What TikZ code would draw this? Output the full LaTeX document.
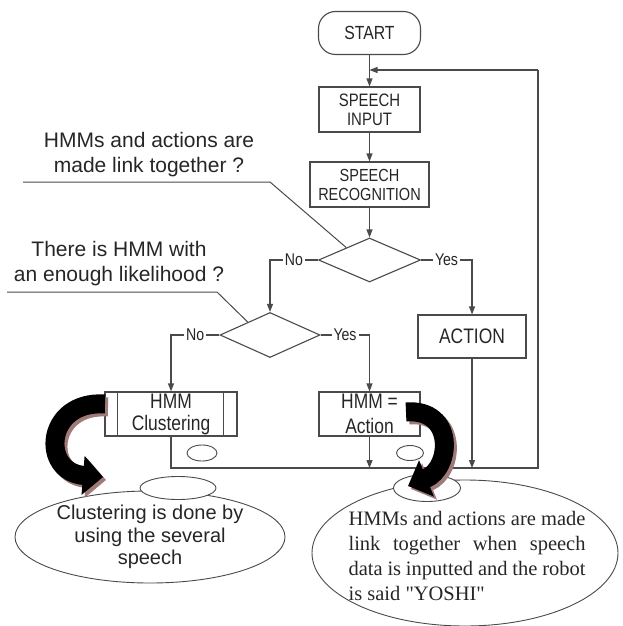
\documentclass[tikz,border=0pt]{standalone}
\usepackage{fontspec}
\setmainfont{Liberation Sans}
\newfontfamily\boxfont[FakeStretch=0.83]{Liberation Sans}
\newfontfamily\serifbody{Liberation Serif}
\usetikzlibrary{positioning, shapes.geometric, arrows.meta, calc}
\definecolor{lineg}{HTML}{4A4A4A}
\definecolor{shadowbrown}{HTML}{A07A78}

\begin{document}
\begin{tikzpicture}[
			x=1pt, y=-1pt,
			line width=1.1pt,
			boxtxt/.style={font=\boxfont\fontsize{21}{23}\selectfont, text=black!85},
			term/.style={boxtxt, draw=lineg, rounded corners=17pt, minimum width=102pt, minimum height=43pt, inner sep=0pt},
			proc/.style={boxtxt, draw=lineg, minimum height=45pt, align=center, inner sep=0pt},
			decide/.style={diamond, draw=lineg, inner sep=0pt},
			ar/.style={draw=lineg, -{Triangle[length=8pt,width=6pt]}},
			ln/.style={draw=lineg, line width=1pt},
			tag/.style={font=\boxfont\fontsize{17}{17}\selectfont, text=black!85, fill=white, inner sep=2pt},
			quest/.style={font=\fontsize{21}{25}\selectfont, align=center, text=black!85},
			blob/.style={ellipse, draw=lineg, line width=0.9pt, inner sep=0pt},
			fat/.style={line width=19pt, -{Triangle[length=20pt,width=38pt]}}
			]
			\useasboundingbox (0,0) rectangle (622,626);
			\node[term, font=\boxfont\fontsize{19}{19}\selectfont] (start) at (369.5,33) {START};
			\node[proc, minimum width=101pt, font=\boxfont\fontsize{18}{19}\selectfont] (input) at (369.5,109.5) {SPEECH\\INPUT};
			\node[proc, minimum width=119pt, font=\boxfont\fontsize{17.5}{19}\selectfont] (recog) at (369.5,184.5) {SPEECH\\RECOGNITION};
			\node[decide, minimum width=102pt, minimum height=44pt] (dec1) at (369.5,260) {};
			\node[decide, minimum width=100pt, minimum height=45pt] (dec2) at (270,335) {};
			\node[proc, minimum width=108pt, minimum height=43pt] (action) at (472,336.5) {ACTION};
			\node[proc, minimum width=132pt, minimum height=44pt, font=\boxfont\fontsize{21}{22}\selectfont] (clus) at (171,414) {HMM\\Clustering};
			\draw[lineg] ([xshift=13pt]clus.north west) -- ([xshift=13pt]clus.south west);
			\draw[lineg] ([xshift=-14pt]clus.north east) -- ([xshift=-14pt]clus.south east);
			\node[proc, minimum width=101pt, minimum height=44pt, font=\boxfont\fontsize{21}{25}\selectfont] (hmmact) at (369.5,414) {HMM =\\Action};
			\node[blob, minimum width=30pt, minimum height=16pt] (dotL) at (202,453) {};
			\node[blob, minimum width=27pt, minimum height=15pt] (dotR) at (410,453) {};
			\draw[ar] (start) -- (input);
			\draw[ar] (input) -- (recog);
			\draw[ar] (recog) -- (dec1);
			\draw[ar] (dec1.west) -| node[tag, pos=0.25] {No} (dec2.north);
			\draw[ar] (dec1.east) -| node[tag, pos=0.25] {Yes} (action.north);
			\draw[ar] (dec2.west) -| node[tag, pos=0.25] {No} (clus.north);
			\draw[ar] (dec2.east) -| node[tag, pos=0.25] {Yes} (hmmact.north);
			\coordinate (loopBR) at (538,468);
			\coordinate (loopTR) at (538,70);
			\draw[ln, line width=1.1pt] (clus.south) |- (loopBR) -- (loopTR);
			\draw[ar] (loopTR) -- (loopTR -| start.south);
			\draw[ar] (hmmact.south) -- (hmmact.south |- loopBR);
			\draw[ar] (action.south) -- (action.south |- loopBR);
			\node[quest] (q1) at (149,155) {HMMs and actions are\\made link together ?};
			\coordinate (q1l) at (23,182);
			\coordinate (q1r) at (270,182);
			\draw[ln] (q1l) -- (q1r) -- ($(dec1.west)!0.55!(dec1.north)$);
			\node[quest] (q2) at (119,264) {There is HMM with\\an enough likelihood ?};
			\coordinate (q2l) at (7,292);
			\coordinate (q2r) at (217,292);
			\draw[ln] (q2l) -- (q2r) -- ($(dec2.west)!0.56!(dec2.north)$);
			\node[blob, minimum width=270pt, minimum height=92pt, font=\fontsize{20}{22.5}\selectfont, align=center, text=black!85] (noteL) at (150,537) {Clustering is done by\\using the several\\speech};
			\node[blob, minimum width=306pt, minimum height=146pt] (noteR) at (465,553) {};
			\node[blob, fill=white, minimum width=76pt, minimum height=23pt] (tailL) at (178,488) {};
			\node[blob, fill=white, minimum width=67pt, minimum height=27pt] (tailR) at (427,488) {};
			\node[font=\serifbody\fontsize{20.5}{25}\selectfont, text width=237pt, align=justify, anchor=base west, inner sep=0pt, text=black!85] (noteRtxt) at (348,525) {HMMs and actions are made\linebreak link together when speech\linebreak data is inputted and the robot\linebreak is said "YOSHI"};
			\foreach \c/\d in {shadowbrown/3, black/0} {
				\draw[fat, \c] (105+\d,404+\d) .. controls (45+\d,400+\d) and (40+\d,472+\d) .. (103+\d,477+\d);
				\draw[fat, \c] (406+\d,412+\d) .. controls (455+\d,408+\d) and (452+\d,468+\d) .. (408+\d,486+\d);
			}
		\end{tikzpicture}
\end{document}
